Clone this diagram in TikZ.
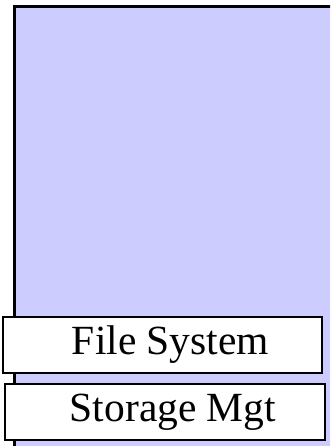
\documentclass[tikz,border=0pt]{standalone}
\usepackage{fontspec}
\setmainfont{Liberation Serif}
\begin{document}
\begin{tikzpicture}[x=1pt,y=-1pt,
  layerbox/.style={draw=black,line width=2pt,fill=white,inner sep=0pt,
    font=\fontsize{41.5}{44}\selectfont,
    execute at begin node={\hspace*{16pt}}},
  panel/.style={draw=black,line width=3pt,fill=lavender}]
\definecolor{lavender}{HTML}{CCCCFF}
\useasboundingbox (0,0) rectangle (330,446);
\clip (0,0) rectangle (330,446);
% large backdrop panel running off the right and bottom edges
\path[panel] (14.5,7) rectangle (345,460);
\node[layerbox,minimum width=319pt,minimum height=56pt] (fs) at (162.5,345) {File System};
\node[layerbox,minimum width=320pt,minimum height=56pt] (sm) at (165,412) {Storage Mgt};
\end{tikzpicture}
\end{document}
